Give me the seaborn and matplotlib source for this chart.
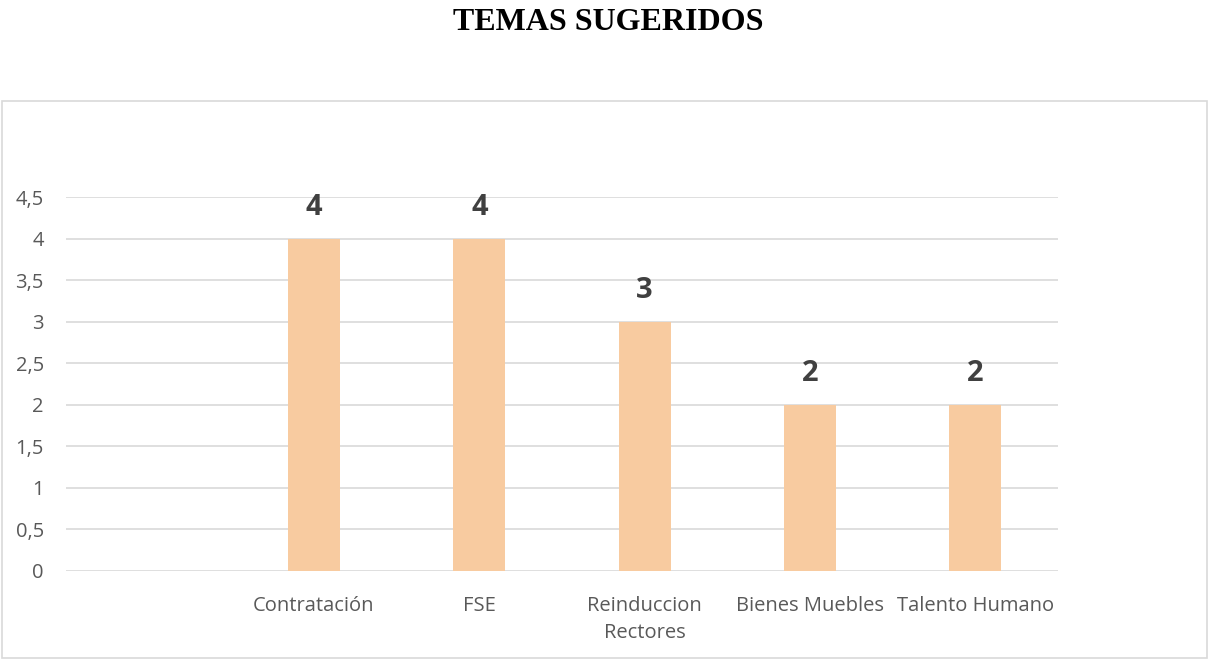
import numpy as np
import pandas as pd
import seaborn as sns
import matplotlib.pyplot as plt
from matplotlib.patches import Rectangle

# data (first slot is empty in the original)
categories = ["", "Contratación", "FSE", "Reinduccion\nRectores", "Bienes Muebles", "Talento Humano"]
values = [np.nan, 4, 4, 3, 2, 2]
y_ticks = [0, 0.5, 1, 1.5, 2, 2.5, 3, 3.5, 4, 4.5]

df = pd.DataFrame({"tema": categories, "valor": values})

sns.set_theme(style="white")
plt.rcParams['font.family'] = ['Open Sans', 'DejaVu Sans']

fig = plt.figure(figsize=(12.1, 6.59), dpi=100)

# outer chart frame
fig.patches.append(Rectangle((2 / 1210, 1 / 659), 1205 / 1210, 1 - 102 / 659,
                             transform=fig.transFigure, fill=False,
                             edgecolor='#D9D9D9', linewidth=1.2))

ax = fig.add_axes([66 / 1210, 1 - 571 / 659, 992 / 1210, (571 - 197) / 659])
sns.barplot(data=df, x="tema", y="valor", order=categories, color='#F8CBA0',
            saturation=1, width=0.315, linewidth=0, ax=ax, zorder=3)

ax.set_ylim(0, 4.5)
ax.set_yticks(y_ticks)
ax.set_yticklabels([f"{t:g}".replace(".", ",") for t in y_ticks])
ax.yaxis.grid(True, color='#D9D9D9', linewidth=1.2, zorder=0)
ax.set_axisbelow(True)
for s in ax.spines.values():
    s.set_visible(False)
ax.tick_params(axis='both', length=0, labelsize=14.5, colors='#595959')
ax.tick_params(axis='y', pad=16)
ax.tick_params(axis='x', pad=18)
for lbl in ax.get_xticklabels():
    lbl.set_linespacing(1.5)
ax.set_xlabel("")
ax.set_ylabel("")

for i, v in enumerate(values):
    if not np.isnan(v):
        ax.text(i, v + 0.2, f"{v:g}", ha='center', va='bottom',
                fontsize=21, fontweight='bold', color='#404040')

fig.text(0.503, 1 - 22 / 659, "TEMAS SUGERIDOS", ha='center', va='center',
         fontsize=23, fontweight='bold', family=['Liberation Serif', 'DejaVu Serif'],
         color='black')

fig.savefig("out.png", dpi=100)
